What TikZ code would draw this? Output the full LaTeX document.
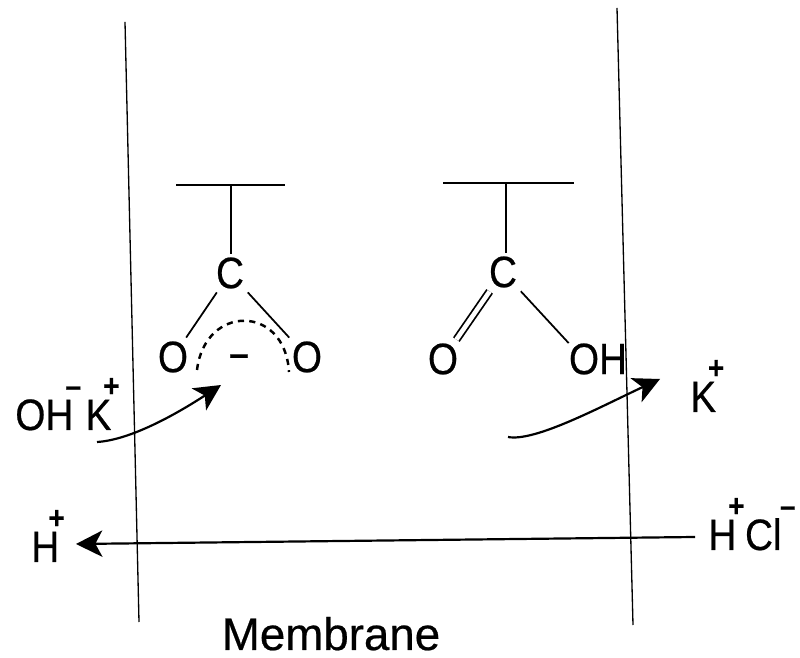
\documentclass[tikz,border=0pt]{standalone}
\usepackage{fontspec}
\setmainfont[FakeBold=0.5]{Liberation Sans}
\newfontfamily\chemfont[FakeStretch=0.88,FakeBold=0.5]{Liberation Sans}
\usetikzlibrary{arrows.meta}
\newcommand{\ionup}[2]{\kern#1\makebox[0pt]{\raisebox{19pt}{\fontsize{18}{18}\selectfont\bfseries #2}}}
\begin{document}
\begin{tikzpicture}[scale=1,
      atom/.style={
        font=\chemfont\fontsize{25}{25}\selectfont,inner sep=2pt
      },
      ion/.style={
        font=\chemfont\fontsize{25}{25}\selectfont,inner sep=0pt,anchor=base west
      },
      wall/.style={
        line width=0.75pt
      },
      bond/.style={
        line width=1pt
      },
      flow/.style={
        line width=1.25pt,-{Stealth[length=15pt,width=15pt,inset=4pt]}
      }
    ]
    \useasboundingbox (0,0) rectangle (16,13.14);
    \draw [wall] (2.50,12.70) -- (2.78,0.70);
    \draw [wall] (12.34,12.98) -- (12.66,0.64);

    \node [atom] (c1) at (4.60,7.68) {C};
    \node [atom] (c2) at (10.06,7.70) {C};
    \node [atom] (o1) at (3.46,6.00) {O};
    \node [atom] (o2) at (6.14,6.00) {O};
    \node [atom] (o3) at (8.86,5.96) {O};
    \node [atom,inner sep=0pt] (oh) at (11.96,5.96) {OH};
    \node [font=\fontsize{20}{20}\selectfont\bfseries,inner sep=0pt] (minus) at (4.78,5.94) {–};

    \coordinate (bar1l) at (3.52,9.44);
    \coordinate (bar1m) at (4.62,9.44);
    \coordinate (bar1r) at (5.70,9.44);
    \coordinate (bar2l) at (8.86,9.48);
    \coordinate (bar2m) at (10.12,9.48);
    \coordinate (bar2r) at (11.48,9.48);
    \draw [bond] (bar1l) -- (bar1r);
    \draw [bond] (bar2l) -- (bar2r);
    \draw [bond] (bar1m) -- (bar1m |- c1.north);
    \draw [bond] (bar2m) -- (bar2m |- c2.north);
    \draw [bond] (c1) -- (o1);
    \draw [bond] (c1) -- (o2);
    \draw [bond,double,double distance=2.6pt] (c2) -- (o3);
    \draw [bond] (c2) -- (oh.north west);
    \draw [line width=1.4pt,dash pattern=on 3.5pt off 3pt] (3.94,5.74) .. controls (4.10,7.06) and (5.70,7.06) .. (5.78,5.70);

    \node [ion] (ohk) at (0.30,4.54) {OH\ionup{0pt}{–}\kern 7pt K\ionup{0pt}{+}};
    \node [ion] (k) at (13.80,4.90) {K\ionup{0pt}{+}};
    \node [ion] (h) at (0.62,1.90) {H\ionup{-1.5pt}{+}};
    \node [ion] (hcl) at (14.16,2.14) {H\ionup{0pt}{+}\kern 5pt Cl\ionup{3.5pt}{–}};
    \node [font=\fontsize{26}{26}\selectfont,inner sep=0pt,anchor=base] (membrane) at (6.62,0.14) {Membrane};

    \coordinate (in1) at (1.94,4.30);
    \coordinate (in2) at (4.42,5.44);
    \coordinate (out1) at (10.16,4.40);
    \coordinate (out2) at (13.20,5.56);
    \coordinate (acid1) at (13.90,2.40);
    \coordinate (acid2) at (1.52,2.26);
    \draw [flow] (in1) .. controls (2.60,4.34) and (3.50,4.84) .. (in2);
    \draw [flow] (out1) .. controls (10.70,4.30) and (12.00,5.00) .. (out2);
    \draw [flow] (acid1) -- (acid2);
  \end{tikzpicture}
\end{document}
